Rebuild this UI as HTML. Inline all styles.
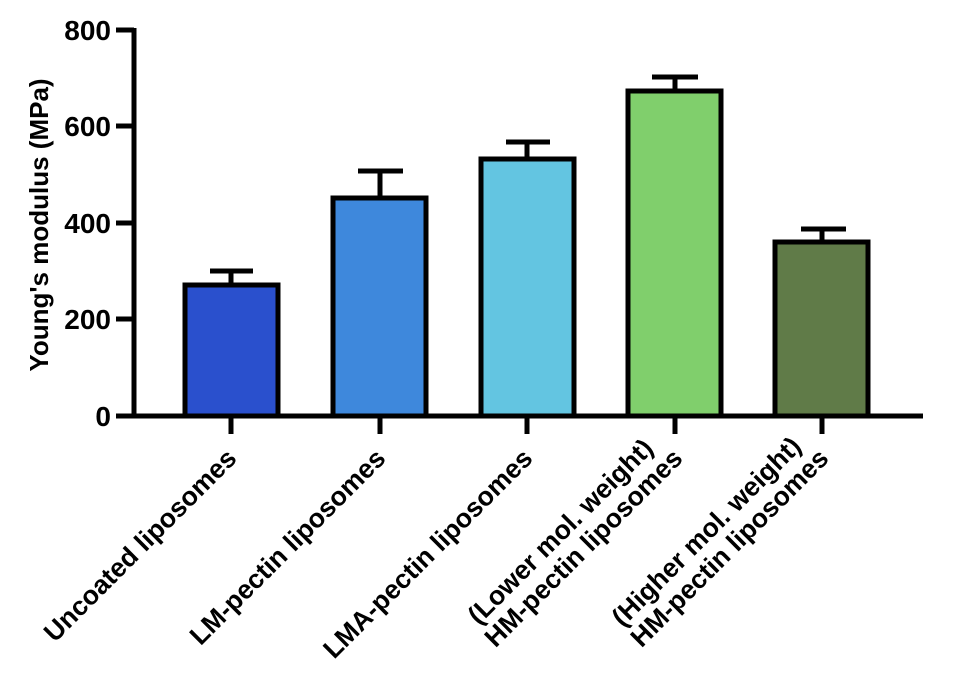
<!DOCTYPE html>
<html><head><style>body{margin:0;background:#fff}svg{display:block}text{font-family:"Liberation Sans",Arial,sans-serif;font-weight:bold;fill:#000}</style></head>
<body>
<svg width="955" height="681" viewBox="0 0 955 681">
<g stroke="#000" stroke-width="5">
<rect x="185" y="285" width="93" height="131" fill="#2a50cd"/>
<rect x="333" y="198" width="93" height="218" fill="#3e88dc"/>
<rect x="481" y="159" width="93" height="257" fill="#63c5e1"/>
<rect x="628" y="91" width="93" height="325" fill="#80cf6c"/>
<rect x="775" y="242" width="93" height="174" fill="#607b48"/>
</g>
<g stroke="#000" stroke-width="5" fill="none">
<line x1="134" y1="28" x2="134" y2="418"/>
<line x1="132" y1="416" x2="923" y2="416"/>
<line x1="116" y1="30" x2="134" y2="30"/>
<line x1="116" y1="126" x2="134" y2="126"/>
<line x1="116" y1="223" x2="134" y2="223"/>
<line x1="116" y1="319" x2="134" y2="319"/>
<line x1="116" y1="416" x2="134" y2="416"/>
<line x1="231" y1="416" x2="231" y2="434"/>
<line x1="380" y1="416" x2="380" y2="434"/>
<line x1="527" y1="416" x2="527" y2="434"/>
<line x1="675" y1="416" x2="675" y2="434"/>
<line x1="822" y1="416" x2="822" y2="434"/>
<line x1="231" y1="285" x2="231" y2="271"/><line x1="210" y1="271" x2="253" y2="271"/>
<line x1="380" y1="198" x2="380" y2="171"/><line x1="358" y1="171" x2="403" y2="171"/>
<line x1="527" y1="159" x2="527" y2="142"/><line x1="506" y1="142" x2="550" y2="142"/>
<line x1="675" y1="91" x2="675" y2="77"/><line x1="652" y1="77" x2="698" y2="77"/>
<line x1="822" y1="242" x2="822" y2="229"/><line x1="801" y1="229" x2="846" y2="229"/>
</g>
<g font-size="28" text-anchor="end">
<text x="111" y="40">800</text>
<text x="111" y="136">600</text>
<text x="111" y="233">400</text>
<text x="111" y="329">200</text>
<text x="111" y="426">0</text>
</g>
<text transform="translate(48,225) rotate(-90)" font-size="26" text-anchor="middle">Young's modulus (MPa)</text>
<g font-size="26.5">
<text transform="translate(238,460) rotate(-45)" text-anchor="end">Uncoated liposomes</text>
<text transform="translate(387,460) rotate(-45)" text-anchor="end">LM-pectin liposomes</text>
<text transform="translate(534,460) rotate(-45)" text-anchor="end">LMA-pectin liposomes</text>
<g transform="translate(684,460) rotate(-45)">
<text x="0" y="0" text-anchor="end">HM-pectin liposomes</text>
<text x="-138" y="-28" text-anchor="middle">(Lower mol. weight)</text>
</g>
<g transform="translate(830,460) rotate(-45)">
<text x="0" y="0" text-anchor="end">HM-pectin liposomes</text>
<text x="-138" y="-28" text-anchor="middle">(Higher mol. weight)</text>
</g>
</g>
</svg>
</body></html>
